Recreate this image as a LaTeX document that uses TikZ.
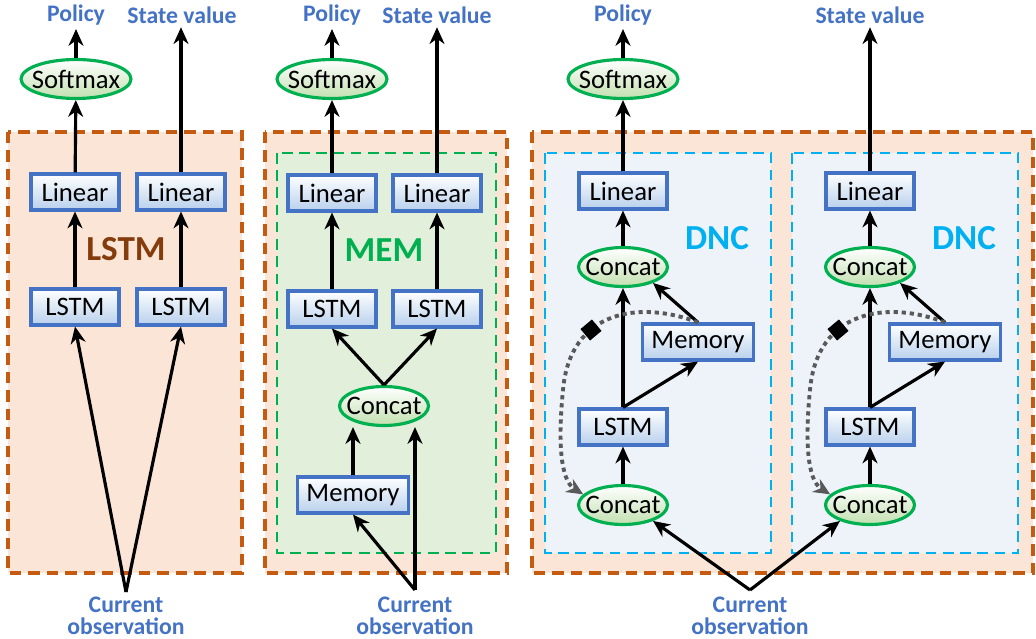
\documentclass[tikz,border=0pt]{standalone}
\usepackage{fontspec}
\setmainfont{Carlito}
\usetikzlibrary{arrows.meta,
                shapes.geometric}
\definecolor{boxblue}{HTML}{4472C4}
\definecolor{shadeblue}{HTML}{B8D0EC}
\definecolor{opgreen}{HTML}{00B050}
\definecolor{shadegreen}{HTML}{C2E0B0}
\definecolor{panelfill}{HTML}{FBE5D6}
\definecolor{paneldraw}{HTML}{C55A11}
\definecolor{memfill}{HTML}{E2EFDA}
\definecolor{dncfill}{HTML}{EEF3FA}
\definecolor{dnccyan}{HTML}{00B0F0}
\definecolor{lstmbrown}{HTML}{843C0C}
\definecolor{linkgray}{HTML}{595959}
\begin{document}
\begin{tikzpicture}[x=0.02cm, y=-0.02cm,
    every node/.style={font=\fontsize{15.2}{17}\selectfont},
    block/.style={draw=boxblue, line width=1.8pt, top color=white, bottom color=shadeblue,
                  minimum width=1.76cm, minimum height=0.72cm, inner xsep=0.18cm},
    op/.style={ellipse, draw=opgreen, line width=1.8pt, top color=white, bottom color=shadegreen,
               minimum height=0.78cm, inner xsep=-0.12cm, inner ysep=0pt},
    output/.style={text=boxblue, font=\bfseries\fontsize{13.5}{12.5}\selectfont, inner sep=2pt, align=center},
    tag/.style={font=\bfseries\fontsize{20}{22}\selectfont},
    flow/.style={-{Stealth[length=9.5pt,width=8.5pt,inset=3pt]}, line width=1.8pt},
    link/.style={-{Stealth[length=9.5pt,width=8.5pt,inset=3pt]}, draw=linkgray, line width=2.2pt,
                 dash pattern=on 2.4pt off 2.2pt},
    panel/.style={fill=panelfill, draw=paneldraw, line width=1.9pt, dash pattern=on 6.5pt off 4pt},
    inner panel/.style={line width=1.7pt, dash pattern=on 6pt off 3.8pt}]
\useasboundingbox[fill=white] (0,0) rectangle (1036,639);

\draw[panel] (8,132) rectangle (242,573);
\node[output] (pol1) at (76,15) {Policy};
\node[output] (val1) at (182,15) {State value};
\node[op, minimum width=2.2cm] (sm1) at (76,79) {Softmax};
\node[block] (lin1) at (75,192) {Linear};
\node[block] (lin2) at (181,192) {Linear};
\node[block] (lstm1) at (75,307) {LSTM};
\node[block] (lstm2) at (181,307) {LSTM};
\node[tag, text=lstmbrown] (name1) at (126,249) {LSTM};
\coordinate (obs1) at (126,592);
\node[output] (cur1) at (126,616) {Current\\observation};
\draw[flow] (lin1) -- (sm1);
\draw[flow] (sm1) -- (pol1);
\draw[flow] (lin2) -- (lin2 |- val1.south);
\draw[flow] (lstm1) -- (lin1);
\draw[flow] (lstm2) -- (lin2);
\draw[flow] (obs1) -- (lstm1.south);
\draw[flow] (obs1) -- (lstm2.south);

\draw[panel] (265,132) rectangle (507,573);
\draw[inner panel, fill=memfill, draw=opgreen] (277,153) rectangle (496,553);
\node[output] (pol2) at (332,15) {Policy};
\node[output] (val2) at (437,15) {State value};
\node[op, minimum width=2.2cm] (sm2) at (332,79) {Softmax};
\node[block] (lin3) at (332,193) {Linear};
\node[block] (lin4) at (437,193) {Linear};
\node[block] (lstm3) at (332,309) {LSTM};
\node[block] (lstm4) at (437,309) {LSTM};
\node[tag, text=opgreen] (name2) at (384,250) {MEM};
\node[op] (cat1) at (384,406) {Concat};
\node[block] (mem1) at (353,495) {Memory};
\coordinate (obs2) at (415,590);
\node[output] (cur2) at (415,616) {Current\\observation};
\draw[flow] (lin3) -- (sm2);
\draw[flow] (sm2) -- (pol2);
\draw[flow] (lin4) -- (lin4 |- val2.south);
\draw[flow] (lstm3) -- (lin3);
\draw[flow] (lstm4) -- (lin4);
\draw[flow] (cat1.north) -- (lstm3.south);
\draw[flow] (cat1.north) -- (lstm4.south);
\draw[flow] (mem1.north) -- (mem1.north |- cat1.south);
\draw[flow] (obs2) -- (obs2 |- cat1.south);
\draw[flow] (obs2) -- (mem1.south);

\draw[panel] (532,132) rectangle (1033,573);
\node[output] (pol3) at (623,15) {Policy};
\node[output] (val3) at (870,15) {State value};
\node[op, minimum width=2.2cm] (sm3) at (623,79) {Softmax};
\coordinate (obs3) at (750,590);
\node[output] (cur3) at (750,616) {Current\\observation};
\foreach \s/\dx in {a/0,b/247}{
  \draw[inner panel, fill=dncfill, draw=dnccyan] ({545+\dx},153) rectangle ({771+\dx},553);
  \node[block] (lin\s) at ({623+\dx},191) {Linear};
  \node[tag, text=dnccyan] (name\s) at ({717+\dx},238) {DNC};
  \node[op] (cat\s) at ({623+\dx},267) {Concat};
  \node[block] (mem\s) at ({698+\dx},342) {Memory};
  \node[block] (lstm\s) at ({623+\dx},427) {LSTM};
  \node[op] (in\s) at ({623+\dx},505) {Concat};
  \draw[flow] (in\s) -- (lstm\s);
  \draw[flow] (lstm\s.north) -- (cat\s);
  \draw[flow] (lstm\s.north) -- (mem\s.south);
  \draw[flow] (mem\s.north) -- (cat\s.-28);
  \draw[flow] (cat\s) -- (lin\s);
  \draw[link] (mem\s.north) .. controls ({640+\dx},300) and ({570+\dx},310) .. ({563+\dx},390)
              .. controls ({558+\dx},440) and ({560+\dx},480) .. (in\s.165);
  \node[fill, rotate=40, minimum size=8.5pt, inner sep=0pt] (mark\s) at ({591+\dx},330) {};
}
\draw[flow] (lina) -- (sm3);
\draw[flow] (sm3) -- (pol3);
\draw[flow] (linb) -- (linb |- val3.south);
\draw[flow] (obs3) -- (ina.-28);
\draw[flow] (obs3) -- (inb.-152);
\end{tikzpicture}
\end{document}
